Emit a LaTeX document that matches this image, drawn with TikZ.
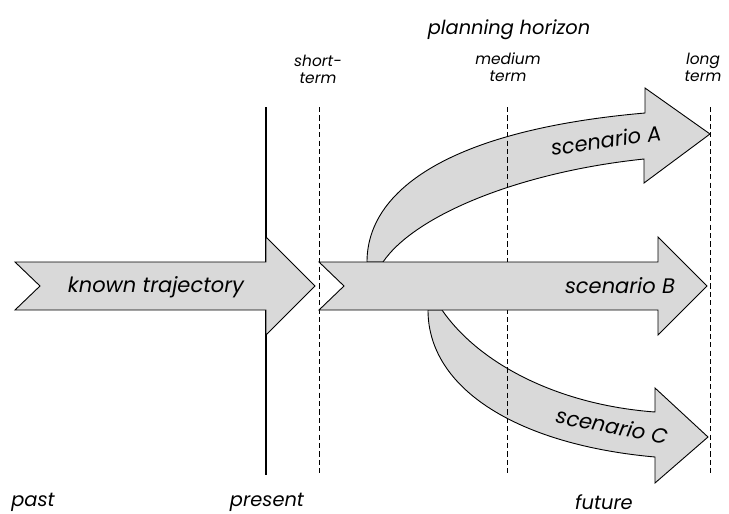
\documentclass[tikz,border=0pt]{standalone}
\usepackage{fontspec}
\setmainfont{Poppins}
\usepackage{xcolor}
\usepackage{tikz}
\usetikzlibrary{positioning}
\definecolor{shade}{RGB}{217,217,217}

\begin{document}
\begin{tikzpicture}[x=0.5pt, y=-0.5pt,
        flow/.style={draw=black, line width=0.45pt, fill=shade},
        horizonline/.style={black, line width=0.5pt, dash pattern=on 2.6pt off 1.6pt},
        bigtext/.style={font=\fontsize{10.5}{12}\selectfont\itshape, inner sep=0pt},
        midtext/.style={font=\fontsize{9.7}{11}\selectfont\itshape, inner sep=0pt},
        smalltext/.style={font=\fontsize{7.7}{8.5}\selectfont\itshape, align=center, inner sep=0pt}]
    \useasboundingbox (0,0) rectangle (729,514);

    % Curved scenarios
    \draw[flow] (428,310) .. controls (428,390) and (520,445) .. (655,457)
        -- (655,483) -- (708,437) -- (655,388) -- (655,412)
        .. controls (560,405) and (480,365) .. (442,310) -- cycle;
    \draw[flow] (367,262) .. controls (367,190) and (450,130) .. (645,113)
        -- (645,88) -- (710,134) -- (644,183) -- (644,159)
        .. controls (520,172) and (415,215) .. (383,262) -- cycle;

    % Time lines
    \draw[black, line width=0.6pt] (266,107) -- (266,475);
    \draw[horizonline] (319,107) -- (319,475);
    \draw[horizonline] (507,107) -- (507,475);
    \draw[horizonline] (710,107) -- (710,475);

    % Straight arrows
    \draw[flow] (15,262) -- (266,262) -- (266,237) -- (315,286) -- (266,335)
        -- (266,310) -- (15,310) -- (40,286) -- cycle;
    \draw[flow] (319,262) -- (658,262) -- (658,237) -- (707,286) -- (658,335)
        -- (658,310) -- (319,310) -- (344,286) -- cycle;

    % Arrow labels
    \node[bigtext] (known) at (156,287) {known trajectory};
    \node[bigtext] (scenB) at (620,286) {scenario B};
    \node[bigtext, rotate=8] (scenA) at (606,140) {scenario A};
    \node[bigtext, rotate=-11] (scenC) at (612,426) {scenario C};

    % Planning horizon
    \node[midtext] (horizon) at (509,30) {planning horizon};
    \node[smalltext] (shortterm) at (318,69) {short-\\term};
    \node[smalltext] (mediumterm) at (508,67) {medium\\term};
    \node[smalltext] (longterm) at (703,67) {long\\term};

    % Time axis
    \node[midtext] (past) at (33,502) {past};
    \node[midtext] (present) at (267,502) {present};
    \node[midtext] (future) at (604,502) {future};
\end{tikzpicture}
\end{document}
